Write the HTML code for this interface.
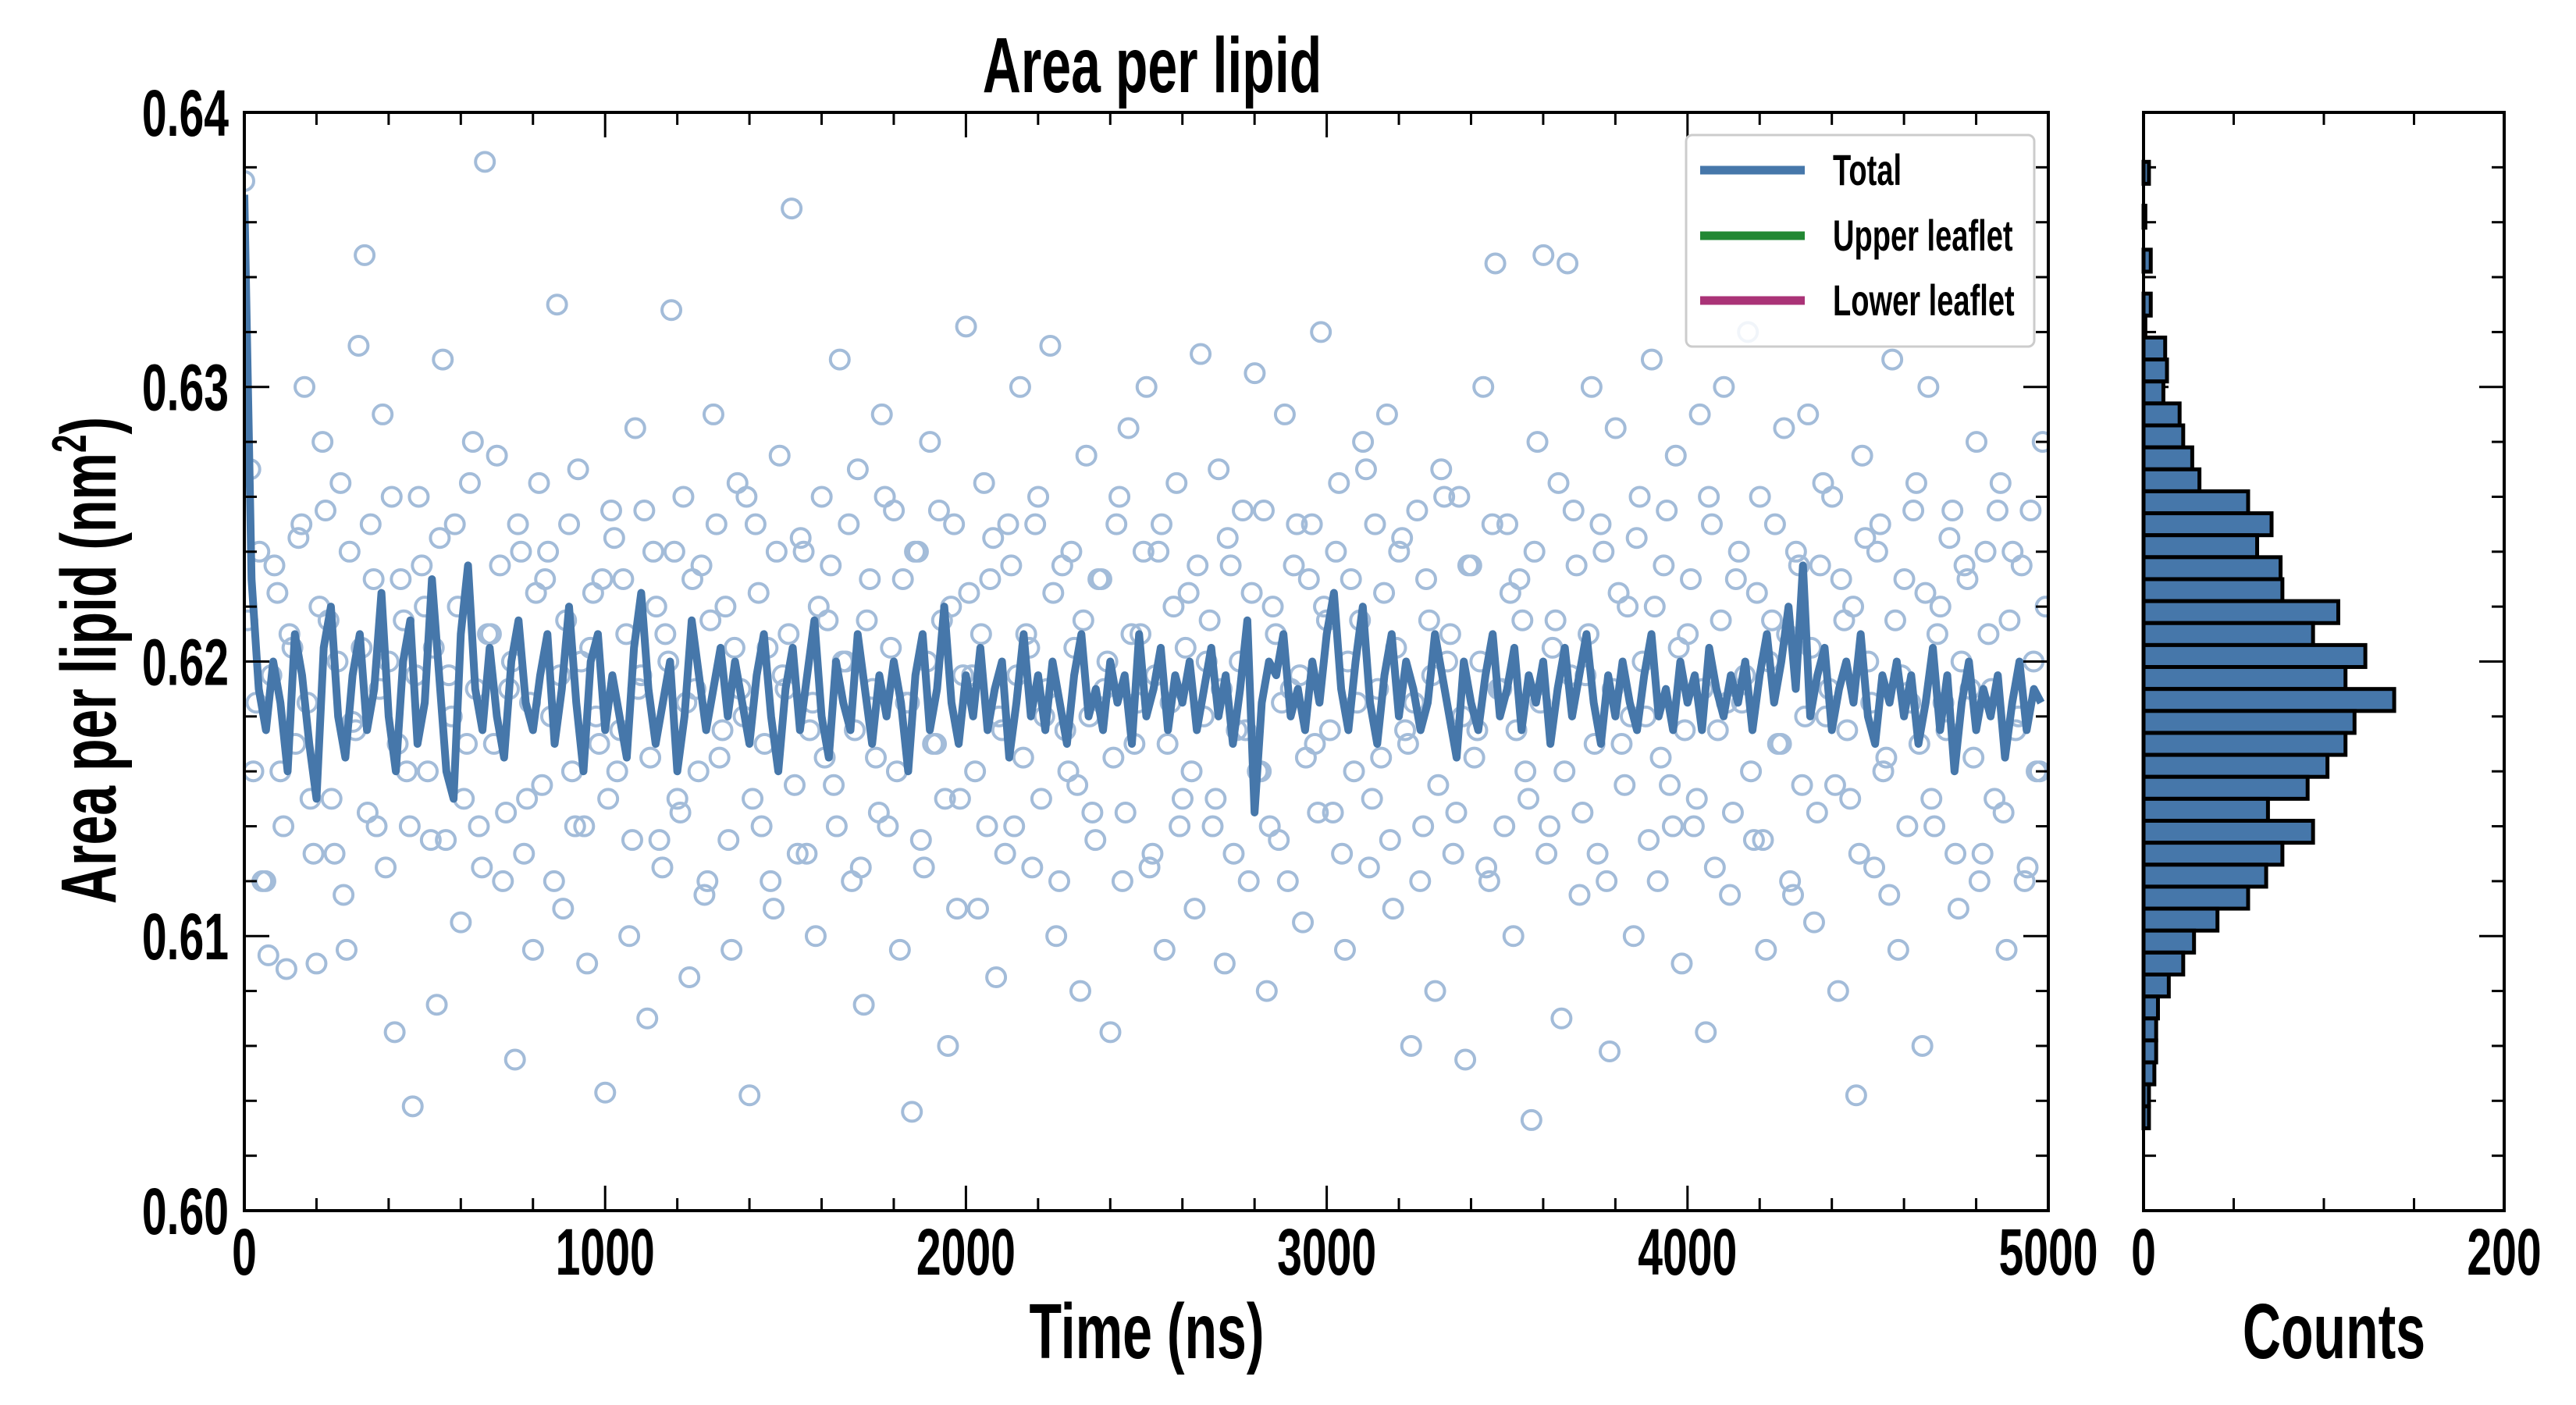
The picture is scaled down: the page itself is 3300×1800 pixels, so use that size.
<!DOCTYPE html>
<html><head><meta charset="utf-8"><style>
html,body{margin:0;padding:0;background:#fff}
svg{display:block}
text{font-family:"Liberation Sans Narrow","Liberation Sans",sans-serif;font-weight:bold;fill:#000}
.c{transform-box:fill-box;transform-origin:center;transform:scaleX(0.68)}
.r{transform-box:fill-box;transform-origin:right center;transform:scaleX(0.68)}
.l{transform-box:fill-box;transform-origin:left center;transform:scaleX(0.68)}
</style></head><body>
<svg id="chart" width="3300" height="1800" viewBox="0 0 3300 1800" xmlns="http://www.w3.org/2000/svg">
<g id="main"></g>
<g id="hist"></g>
</svg>
<script>
const yTickLabels=["0.60","0.61","0.62","0.63","0.64"];
const yTickValues=[0.60,0.61,0.62,0.63,0.64];
const xTickValues=[0,1000,2000,3000,4000,5000];
const histXTickValues=[0,200];
const scatterDt=16.67;
const scatterValues=[
.6375,.6270,.6185,.6120,.6093,.6235,.6160,.6088,.6205,.6245,
.6300,.6150,.6090,.6280,.6215,.6130,.6265,.6095,.6178,.6315,
.6348,.6250,.6140,.6290,.6200,.6065,.6230,.6160,.6038,.6260,
.6220,.6135,.6075,.6310,.6195,.6250,.6105,.6170,.6280,.6140,
.6382,.6210,.6275,.6120,.6190,.6055,.6240,.6150,.6095,.6265,
.6230,.6180,.6330,.6110,.6250,.6140,.6200,.6090,.6225,.6170,
.6043,.6255,.6160,.6230,.6100,.6285,.6195,.6070,.6240,.6135,
.6210,.6328,.6150,.6260,.6085,.6190,.6235,.6120,.6290,.6165,
.6220,.6095,.6265,.6180,.6042,.6250,.6140,.6205,.6110,.6275,
.6190,.6365,.6130,.6240,.6175,.6100,.6260,.6215,.6155,.6310,
.6200,.6120,.6270,.6075,.6230,.6165,.6290,.6140,.6255,.6095,
.6185,.6036,.6240,.6125,.6280,.6170,.6215,.6060,.6250,.6150,
.6322,.6195,.6110,.6265,.6230,.6085,.6175,.6250,.6140,.6300,
.6210,.6125,.6260,.6180,.6315,.6100,.6235,.6160,.6205,.6080,
.6275,.6145,.6230,.6190,.6065,.6250,.6120,.6285,.6170,.6210,
.6300,.6130,.6240,.6095,.6185,.6265,.6150,.6225,.6110,.6312,
.6200,.6140,.6270,.6090,.6235,.6175,.6255,.6120,.6305,.6160,
.6080,.6220,.6135,.6290,.6190,.6250,.6105,.6230,.6170,.6320,
.6215,.6145,.6265,.6095,.6230,.6185,.6280,.6125,.6250,.6165,
.6290,.6110,.6240,.6175,.6060,.6255,.6140,.6215,.6080,.6270,
.6200,.6130,.6260,.6055,.6235,.6175,.6300,.6120,.6345,.6190,
.6250,.6100,.6230,.6160,.6033,.6280,.6348,.6140,.6215,.6070,
.6345,.6255,.6115,.6195,.6300,.6130,.6240,.6058,.6285,.6170,
.6220,.6100,.6260,.6180,.6310,.6120,.6235,.6155,.6275,.6090,
.6210,.6140,.6290,.6065,.6250,.6175,.6300,.6115,.6230,.6185,
.6320,.6135,.6260,.6095,.6215,.6170,.6285,.6120,.6240,.6155,
.6290,.6105,.6235,.6180,.6260,.6080,.6215,.6150,.6042,.6275,
.6200,.6125,.6250,.6165,.6310,.6095,.6230,.6185,.6265,.6060,
.6300,.6140,.6220,.6175,.6255,.6110,.6235,.6190,.6280,.6130,
.6210,.6150,.6265,.6095,.6240,.6180,.6120,.6255,.6160,.6280];
const scatterValues2=[
.6215,.6160,.6240,.6120,.6195,.6225,.6140,.6210,.6170,.6250,
.6185,.6130,.6220,.6255,.6150,.6200,.6115,.6240,.6175,.6205,
.6145,.6230,.6190,.6125,.6260,.6170,.6215,.6140,.6195,.6235,
.6160,.6205,.6245,.6135,.6180,.6220,.6150,.6265,.6190,.6125,
.6210,.6170,.6235,.6145,.6200,.6250,.6130,.6185,.6225,.6155,
.6240,.6120,.6195,.6215,.6160,.6270,.6140,.6205,.6180,.6230,
.6150,.6245,.6175,.6210,.6135,.6190,.6255,.6165,.6220,.6125,
.6200,.6240,.6145,.6185,.6230,.6160,.6115,.6215,.6250,.6175,
.6135,.6205,.6190,.6260,.6150,.6225,.6170,.6120,.6240,.6195,
.6210,.6155,.6245,.6130,.6185,.6220,.6165,.6235,.6140,.6200,
.6250,.6175,.6125,.6215,.6190,.6145,.6260,.6205,.6160,.6230,
.6185,.6240,.6135,.6200,.6170,.6255,.6150,.6220,.6110,.6195,
.6225,.6160,.6210,.6140,.6245,.6180,.6130,.6235,.6195,.6165,
.6205,.6250,.6150,.6190,.6225,.6120,.6175,.6240,.6155,.6215,
.6180,.6135,.6230,.6200,.6165,.6260,.6145,.6210,.6185,.6240,
.6125,.6195,.6250,.6170,.6220,.6140,.6205,.6160,.6235,.6180,
.6215,.6150,.6190,.6245,.6130,.6200,.6175,.6225,.6160,.6255,
.6140,.6210,.6185,.6120,.6235,.6195,.6165,.6250,.6145,.6220,
.6175,.6240,.6130,.6200,.6160,.6215,.6270,.6150,.6190,.6225,
.6135,.6205,.6245,.6170,.6185,.6120,.6230,.6195,.6155,.6260,
.6210,.6145,.6180,.6235,.6165,.6200,.6125,.6250,.6190,.6140,
.6225,.6175,.6215,.6150,.6240,.6185,.6130,.6205,.6265,.6160,
.6195,.6235,.6145,.6210,.6170,.6250,.6120,.6190,.6225,.6155,
.6180,.6245,.6200,.6135,.6220,.6165,.6255,.6140,.6205,.6175,
.6230,.6150,.6190,.6260,.6125,.6215,.6185,.6145,.6240,.6195,
.6160,.6225,.6135,.6200,.6250,.6170,.6210,.6115,.6235,.6180,
.6205,.6145,.6265,.6190,.6155,.6230,.6175,.6220,.6130,.6245,
.6185,.6240,.6160,.6115,.6215,.6195,.6140,.6255,.6170,.6225,
.6150,.6210,.6185,.6245,.6130,.6200,.6230,.6165,.6120,.6240,
.6190,.6255,.6145,.6215,.6175,.6235,.6125,.6200,.6160,.6220];
const lineDt=20;
const lineValues=[
.6370,.6230,.6190,.6175,.6200,.6185,.6160,.6210,.6195,.6170,
.6150,.6205,.6220,.6180,.6165,.6195,.6210,.6175,.6190,.6225,
.6180,.6160,.6200,.6215,.6170,.6185,.6230,.6195,.6160,.6150,
.6210,.6235,.6190,.6175,.6205,.6180,.6165,.6200,.6215,.6185,
.6175,.6195,.6210,.6170,.6190,.6220,.6185,.6160,.6200,.6210,
.6175,.6195,.6180,.6165,.6205,.6225,.6190,.6170,.6185,.6200,
.6160,.6180,.6215,.6195,.6175,.6190,.6205,.6180,.6200,.6185,
.6170,.6195,.6210,.6180,.6160,.6190,.6205,.6175,.6195,.6215,
.6180,.6165,.6200,.6185,.6175,.6210,.6190,.6170,.6195,.6180,
.6200,.6185,.6160,.6195,.6210,.6175,.6190,.6220,.6185,.6170,
.6195,.6180,.6205,.6175,.6190,.6200,.6165,.6185,.6210,.6180,
.6195,.6175,.6200,.6185,.6170,.6195,.6210,.6180,.6190,.6175,
.6200,.6185,.6195,.6170,.6210,.6180,.6190,.6205,.6175,.6195,
.6185,.6200,.6175,.6190,.6205,.6180,.6195,.6170,.6190,.6215,
.6145,.6185,.6200,.6195,.6210,.6180,.6190,.6175,.6200,.6185,
.6210,.6225,.6190,.6175,.6200,.6220,.6185,.6170,.6195,.6210,
.6180,.6200,.6190,.6175,.6185,.6210,.6195,.6180,.6165,.6200,
.6185,.6175,.6195,.6210,.6180,.6190,.6205,.6175,.6195,.6185,
.6200,.6170,.6190,.6205,.6180,.6195,.6210,.6185,.6170,.6195,
.6180,.6200,.6185,.6175,.6195,.6210,.6180,.6190,.6175,.6200,
.6185,.6195,.6175,.6205,.6190,.6180,.6195,.6185,.6200,.6175,
.6195,.6210,.6185,.6200,.6220,.6190,.6235,.6180,.6195,.6205,
.6175,.6190,.6200,.6185,.6210,.6180,.6170,.6195,.6185,.6200,
.6180,.6195,.6170,.6185,.6205,.6175,.6195,.6160,.6185,.6200,
.6175,.6190,.6180,.6195,.6165,.6185,.6200,.6175,.6190,.6185];
const histBinStart=0.6382;
const histBinWidth=0.0008;
const histCounts=[3,0,1,0,4,0,4,1,12,13,11,20,22,27,31,58,71,63,76,77,108,94,123,112,139,117,112,102,91,69,94,77,68,58,41,28,22,14,8,7,7,6,3,3];

const NS="http://www.w3.org/2000/svg";
const L=313,R=2624,T=144,B=1551,HL=2746,HR=3208;
const xs=v=>L+(v/5000)*(R-L);
const ys=v=>B-(v-0.60)/0.04*(B-T);
const hx=c=>HL+(c/200)*(HR-HL);
function mk(p,tag,at){const e=document.createElementNS(NS,tag);for(const k in at)e.setAttribute(k,at[k]);p.appendChild(e);return e;}
const main=document.getElementById('main'),hist=document.getElementById('hist'),svg=document.getElementById('chart');

const defs=mk(svg,'defs',{});const cp=mk(defs,'clipPath',{id:'clipm'});mk(cp,'rect',{x:L,y:T,width:R-L,height:B-T});
const data=mk(main,'g',{'clip-path':'url(#clipm)'});


scatterValues.forEach((v,i)=>{const c=mk(data,'circle',{cx:xs(i*scatterDt),cy:ys(v),r:12,fill:'none',stroke:'#a3bcd9','stroke-width':4});

});
scatterValues2.forEach((v,i)=>{const c=mk(data,'circle',{cx:xs(i*scatterDt+scatterDt/2),cy:ys(v),r:12,fill:'none',stroke:'#a3bcd9','stroke-width':4});

});
const pl=mk(data,'polyline',{points:lineValues.map((v,i)=>xs(i*lineDt)+','+ys(v)).join(' '),fill:'none',stroke:'#4677aa','stroke-width':10,'stroke-linejoin':'round'});



const fr=mk(main,'rect',{x:L,y:T,width:R-L,height:B-T,fill:'none',stroke:'#000','stroke-width':4});


for(let t=0;t<=5000;t+=200){const maj=t%1000===0,len=maj?32:16,x=xs(t);
mk(main,'line',{x1:x,x2:x,y1:B,y2:B-len,stroke:'#000','stroke-width':3});
mk(main,'line',{x1:x,x2:x,y1:T,y2:T+len,stroke:'#000','stroke-width':3});}
for(let k=0;k<=20;k++){const v=0.60+k*0.002,maj=k%5===0,len=maj?32:16,y=ys(v);
mk(main,'line',{x1:L,x2:L+len,y1:y,y2:y,stroke:'#000','stroke-width':3});
mk(main,'line',{x1:R,x2:R-len,y1:y,y2:y,stroke:'#000','stroke-width':3});
mk(hist,'line',{x1:HL,x2:HL+len,y1:y,y2:y,stroke:'#000','stroke-width':3});
mk(hist,'line',{x1:HR,x2:HR-len,y1:y,y2:y,stroke:'#000','stroke-width':3});}
xTickValues.forEach(v=>{const t=mk(main,'text',{x:xs(v),y:1633,'font-size':84,'text-anchor':'middle','class':'c'});t.textContent=v;

});
yTickValues.forEach((v,i)=>{const t=mk(main,'text',{x:L-20,y:ys(v)+30,'font-size':84,'text-anchor':'end','class':'r'});t.textContent=yTickLabels[i];

});

histCounts.forEach((c,i)=>{if(!c)return;const top=histBinStart-i*histBinWidth,y1=ys(top),y2=ys(top-histBinWidth);
const r=mk(hist,'rect',{x:HL,y:y1,width:hx(c)-HL,height:y2-y1,fill:'#4677aa',stroke:'#000','stroke-width':5});

});
const hf=mk(hist,'rect',{x:HL,y:T,width:HR-HL,height:B-T,fill:'none',stroke:'#000','stroke-width':4});


for(let c=0;c<=200;c+=50){const x=hx(c);
mk(hist,'line',{x1:x,x2:x,y1:B,y2:B-16,stroke:'#000','stroke-width':3});
mk(hist,'line',{x1:x,x2:x,y1:T,y2:T+16,stroke:'#000','stroke-width':3});}
histXTickValues.forEach(v=>{const t=mk(hist,'text',{x:hx(v),y:1633,'font-size':84,'text-anchor':'middle','class':'c'});t.textContent=v;

});
</script>
<svg width="3300" height="1800" style="position:absolute;left:0;top:0" xmlns="http://www.w3.org/2000/svg">
<text class="c" x="1476" y="118" font-size="100" text-anchor="middle">Area per lipid</text>
<text class="c" x="1469" y="1740" font-size="100" text-anchor="middle">Time (ns)</text>
<text class="c" x="2990" y="1740" font-size="100" text-anchor="middle">Counts</text>
<g transform="translate(148,846) rotate(-90)"><text class="c" x="0" y="0" font-size="100" text-anchor="middle">Area per lipid (nm<tspan dy="-38" font-size="62">2</tspan><tspan dy="38">)</tspan></text></g>
<g>
<rect x="2160" y="173" width="446" height="271" rx="8" fill="#fff" fill-opacity="0.85" stroke="#ccc" stroke-width="3"/>
<line x1="2178" x2="2312" y1="218" y2="218" stroke="#4677aa" stroke-width="11"/>
<text class="l" x="2348" y="237" font-size="56">Total</text>
<line x1="2178" x2="2312" y1="302" y2="302" stroke="#228833" stroke-width="11"/>
<text class="l" x="2348" y="321" font-size="56">Upper leaflet</text>
<line x1="2178" x2="2312" y1="385" y2="385" stroke="#aa3377" stroke-width="11"/>
<text class="l" x="2348" y="404" font-size="56">Lower leaflet</text>
</g>
</svg>
</body></html>
